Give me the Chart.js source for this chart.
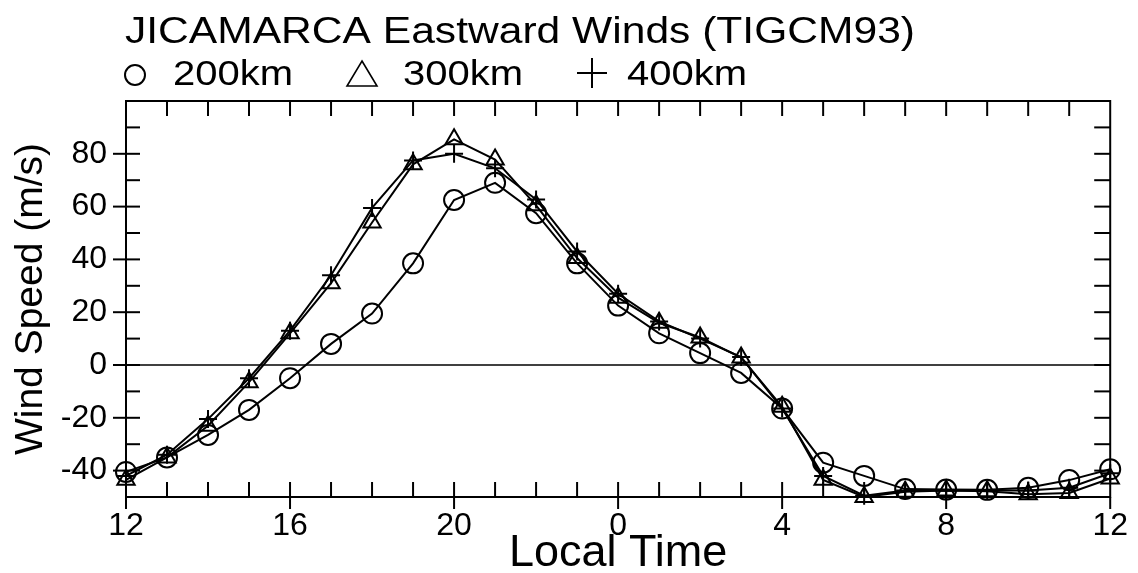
<!DOCTYPE html>
<html>
<head>
<meta charset="utf-8">
<script src="https://cdn.jsdelivr.net/npm/chart.js@4.4.1/dist/chart.umd.min.js"></script>
<style>
  html, body { margin: 0; padding: 0; background: #fff; }
  #wrap { width: 1138px; height: 573px; }
</style>
</head>
<body>
<div id="wrap"><canvas id="c" width="1138" height="573"></canvas></div>
<script>
const FONT = "'Liberation Sans', Arial, Helvetica, sans-serif";

// local time (hours, 12 .. 36 = next day's noon)
const hours = [12, 13, 14, 15, 16, 17, 18, 19, 20, 21, 22, 23, 24,
               25, 26, 27, 28, 29, 30, 31, 32, 33, 34, 35, 36];

const wind200 = [-40.5, -35, -26.5, -17, -5, 8, 19.5, 38.5, 62.5, 69, 57.5, 38.5, 22.5,
                 12, 4.5, -3, -16.5, -37, -42, -47, -47.2, -47.3, -46.5, -43.6, -39.5];
const wind300 = [-43.5, -35, -23, -6.5, 12, 31, 54, 76, 85.5, 77.8, 60.5, 40.5, 25.5,
                 16, 10.4, 2.8, -15.8, -43.5, -50, -48, -47.5, -47.8, -49, -48.5, -43];
const wind400 = [-42, -34, -20.5, -5, 13, 34, 59.5, 77.5, 80, 74.5, 62.7, 43, 27,
                 16.5, 10, 3, -16.5, -42, -49.5, -47.5, -47.5, -47.5, -47.5, -46.5, -41];

const xTickLabels = ['12', '16', '20', '0', '4', '8', '12'];
const yTickValues = [-40, -20, 0, 20, 40, 60, 80];
const seriesNames = ['200km', '300km', '400km'];

const toPoints = arr => hours.map((h, i) => ({ x: h, y: arr[i] }));

function line(ctx, x1, y1, x2, y2) {
  ctx.beginPath();
  ctx.moveTo(x1, y1);
  ctx.lineTo(x2, y2);
  ctx.stroke();
}

// draw text squeezed/stretched to a given width
function fitText(ctx, text, x, y, size, width) {
  ctx.save();
  ctx.font = size + 'px ' + FONT;
  const w = ctx.measureText(text).width;
  ctx.translate(x, y);
  ctx.scale(width / w, 1);
  ctx.fillText(text, 0, 0);
  ctx.restore();
}

const framePlugin = {
  id: 'frame',
  beforeDraw(chart) {
    const ctx = chart.ctx;
    ctx.save();
    ctx.fillStyle = '#fff';
    ctx.fillRect(0, 0, chart.width, chart.height);
    ctx.restore();
  },
  beforeDatasetsDraw(chart) {
    const { ctx, chartArea: a, scales: { y } } = chart;
    ctx.save();
    ctx.strokeStyle = '#000';
    ctx.lineWidth = 1.5;
    const y0 = y.getPixelForValue(0);
    line(ctx, a.left, y0, a.right, y0);
    ctx.restore();
  },
  afterDatasetsDraw(chart) {
    const { ctx, chartArea: a, scales: { x, y } } = chart;
    ctx.save();
    ctx.strokeStyle = '#000';
    ctx.lineWidth = 2;
    ctx.strokeRect(a.left, a.top, a.right - a.left, a.bottom - a.top);

    // y ticks every 10, labelled ones cross the left axis
    for (let v = -40; v <= 90; v += 10) {
      const py = y.getPixelForValue(v);
      const major = yTickValues.includes(v);
      line(ctx, major ? a.left - 13 : a.left, py, a.left + 14, py);
      line(ctx, a.right - 16, py, a.right, py);
    }
    // x ticks every hour
    for (let h = 12; h <= 36; h++) {
      const px = x.getPixelForValue(h);
      const major = (h - 12) % 4 === 0;
      if (h > 12 && h < 36) {
        line(ctx, px, a.top, px, a.top + 15);
        line(ctx, px, a.bottom - 15, px, a.bottom);
      }
      if (major) line(ctx, px, a.bottom, px, a.bottom + 12);
    }
    ctx.restore();
  },
  afterDraw(chart) {
    const ctx = chart.ctx;
    ctx.save();
    ctx.fillStyle = '#000';
    ctx.strokeStyle = '#000';
    ctx.textBaseline = 'alphabetic';
    fitText(ctx, 'JICAMARCA Eastward Winds (TIGCM93)', 125, 43, 37, 790);

    // legend
    ctx.lineWidth = 2;
    ctx.beginPath();
    ctx.arc(135, 75, 10, 0, Math.PI * 2);
    ctx.stroke();
    fitText(ctx, seriesNames[0], 173, 85, 35, 120);

    ctx.lineWidth = 1.6;
    ctx.beginPath();
    ctx.moveTo(362, 61);
    ctx.lineTo(377, 86);
    ctx.lineTo(347, 86);
    ctx.closePath();
    ctx.stroke();
    fitText(ctx, seriesNames[1], 403, 85, 35, 120);

    ctx.lineWidth = 2;
    line(ctx, 577, 73, 607, 73);
    line(ctx, 592, 58, 592, 88);
    fitText(ctx, seriesNames[2], 627, 85, 35, 120);
    ctx.restore();
  }
};

const common = {
  borderColor: '#000',
  pointBorderColor: '#000',
  pointBackgroundColor: 'rgba(0,0,0,0)',
  borderWidth: 2,
  pointBorderWidth: 2,
  tension: 0,
  clip: false
};

new Chart(document.getElementById('c'), {
  type: 'line',
  data: {
    datasets: [
      { ...common, label: seriesNames[0], data: toPoints(wind200), pointStyle: 'circle', pointRadius: 10 },
      { ...common, label: seriesNames[1], data: toPoints(wind300), pointStyle: 'triangle', pointRadius: 10 },
      { ...common, label: seriesNames[2], data: toPoints(wind400), pointStyle: 'cross', pointRadius: 9 }
    ]
  },
  options: {
    responsive: false,
    animation: false,
    devicePixelRatio: 1,
    layout: { padding: { top: 101, right: 22, left: 0, bottom: 0 } },
    plugins: { legend: { display: false }, tooltip: { enabled: false }, title: { display: false } },
    scales: {
      x: {
        type: 'linear',
        min: 12,
        max: 36,
        afterFit: s => { s.height = 76; },
        grid: { display: false, drawTicks: false },
        border: { display: false },
        ticks: {
          stepSize: 4,
          autoSkip: false,
          maxRotation: 0,
          padding: 10,
          color: '#000',
          font: { family: FONT, size: 32 },
          callback: (v, i) => xTickLabels[i]
        },
        title: {
          display: true,
          text: 'Local Time',
          color: '#000',
          padding: 0,
          font: { family: FONT, size: 45, lineHeight: 0.85 }
        }
      },
      y: {
        min: -50,
        max: 100,
        afterFit: s => { s.width = 126; },
        grid: { display: false, drawTicks: false },
        border: { display: false },
        ticks: {
          stepSize: 10,
          autoSkip: false,
          padding: 19,
          color: '#000',
          font: { family: FONT, size: 32 },
          callback: v => yTickValues.includes(v) ? String(v) : null
        },
        title: {
          display: true,
          text: 'Wind Speed (m/s)',
          color: '#000',
          padding: { top: 8, bottom: 0 },
          font: { family: FONT, size: 39 }
        }
      }
    }
  },
  plugins: [framePlugin]
});
</script>
</body>
</html>
